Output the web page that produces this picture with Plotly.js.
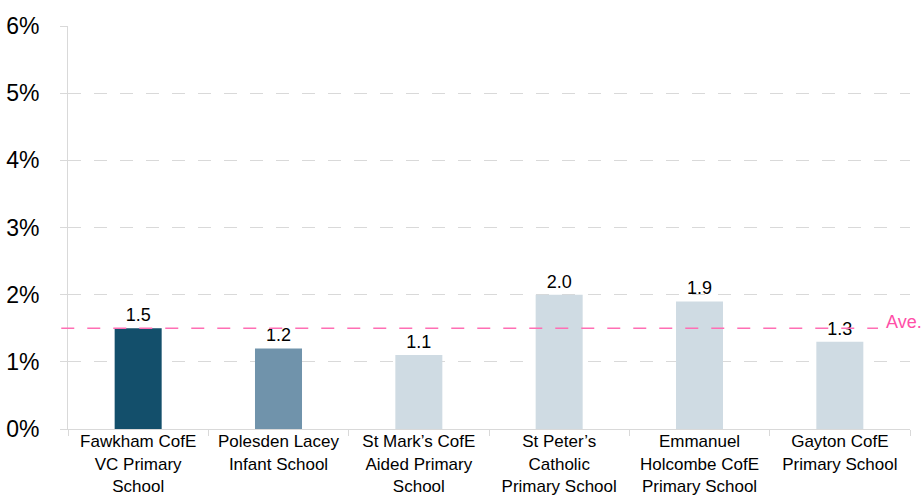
<!DOCTYPE html>
<html>
<head>
<meta charset="utf-8">
<script src="https://cdn.plot.ly/plotly-3.0.1.min.js"></script>
<style>html,body{margin:0;padding:0;background:#fff;}#chart{width:921px;height:496px;}</style>
</head>
<body>
<div id="chart"></div>
<script>
const schools = [
  "Fawkham CofE<br>VC Primary<br>School",
  "Polesden Lacey<br>Infant School",
  "St Mark’s CofE<br>Aided Primary<br>School",
  "St Peter’s<br>Catholic<br>Primary School",
  "Emmanuel<br>Holcombe CofE<br>Primary School",
  "Gayton CofE<br>Primary School"
];
const values = [1.5, 1.2, 1.1, 2.0, 1.9, 1.3];
const barColors = ["#134f6b", "#7093ab", "#cfdbe3", "#cfdbe3", "#cfdbe3", "#cfdbe3"];
const average = 1.5;
const averageLabel = "Ave.";
const yTicks = [0, 1, 2, 3, 4, 5, 6];

const trace = {
  type: "bar",
  x: schools,
  y: values,
  marker: {color: barColors},
  text: values.map(v => v.toFixed(1)),
  textposition: "outside",
  textfont: {family: "Liberation Sans, Arial, sans-serif", size: 18, color: "#000"},
  cliponaxis: false,
  hoverinfo: "none"
};

const layout = {
  width: 921, height: 496,
  margin: {l: 68, r: 11, t: 26, b: 67},
  paper_bgcolor: "#fff", plot_bgcolor: "#fff",
  font: {family: "Liberation Sans, Arial, sans-serif", color: "#000"},
  showlegend: false,
  bargap: 0.665,
  xaxis: {
    type: "category",
    showline: true, linecolor: "#d9d9d9", linewidth: 1,
    ticks: "outside", tickson: "boundaries", ticklen: 6, tickcolor: "#d9d9d9",
    ticklabelstandoff: -3,
    tickfont: {size: 17, color: "#000"},
    showgrid: false
  },
  yaxis: {
    range: [0, 6],
    tickvals: yTicks,
    ticktext: yTicks.map(v => v + "%"),
    showline: true, linecolor: "#d9d9d9", linewidth: 1,
    ticks: "outside", ticklen: 7, tickcolor: "#d9d9d9",
    ticklabelstandoff: 16,
    tickfont: {size: 23, color: "#000"},
    showgrid: true, gridcolor: "#d9d9d9", griddash: "13px,13px", gridwidth: 1,
    zeroline: false
  },
  shapes: [{
    type: "line", xref: "paper", yref: "y",
    x0: -0.008, x1: 0.962, y0: average, y1: average,
    line: {color: "#ff6eb4", width: 1.5, dash: "13px,13px"}
  }],
  annotations: [{
    xref: "paper", yref: "y", x: 0.969, y: average,
    text: averageLabel, showarrow: false, xanchor: "left", yanchor: "middle", yshift: 6,
    font: {size: 18, color: "#ff4fa8"}
  }]
};

Plotly.newPlot("chart", [trace], layout, {staticPlot: true, displayModeBar: false});
</script>
</body>
</html>
